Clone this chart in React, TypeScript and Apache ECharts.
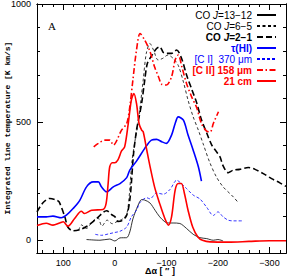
import React, { useEffect, useRef } from "react";
import * as echarts from "echarts";

// Tick labels
const xTickLabels = [100, 0, -100, -200, -300];
const yTickLabels = [0, 500, 1000];

// Series: [Δα (arcsec), integrated line temperature (K km/s)]
const co1312 = [
  [55, 3], [29, 0], [10, 5], [0, -3], [-10, 10], [-23, 11], [-29, 35], [-35, 90],
  [-45, 148], [-52, 172], [-58, 170], [-68, 158], [-78, 127], [-87, 99], [-97, 78],
  [-103, 73], [-113, 73], [-126, 71], [-139, 50], [-152, 25], [-165, 11], [-178, 7],
  [-191, 0], [-200, 3], [-210, -3],
];
const co65 = [
  [70, 42], [65, 65], [55, 50], [45, 75], [33, 95], [25, 60], [15, 85], [5, 70],
  [-5, 80], [-15, 90], [-23, 110], [-28, 190], [-33, 330], [-39, 420], [-45, 494],
  [-55, 678], [-61, 791], [-68, 833], [-75, 805], [-84, 763], [-93, 770], [-103, 784],
  [-113, 770], [-123, 740], [-133, 670], [-142, 593], [-152, 522], [-162, 466],
  [-171, 410], [-184, 330], [-197, 268], [-210, 226], [-223, 198], [-230, 183], [-240, 158],
];
const co21 = [
  [151, 120], [139, 160], [126, 177], [113, 170], [108, 162], [97, 99], [91, 55],
  [81, 40], [68, 45], [55, 58], [36, 90], [16, 125], [6, 108], [0, 100], [-6, 80],
  [-13, 82], [-23, 106], [-29, 170], [-32, 240], [-36, 360], [-42, 466], [-45, 500],
  [-52, 580], [-58, 678], [-63, 748], [-71, 780], [-81, 812], [-87, 819], [-94, 795],
  [-99, 791], [-110, 791], [-120, 805], [-130, 766], [-139, 700], [-149, 640],
  [-159, 580], [-168, 510], [-178, 455], [-188, 403], [-197, 375], [-204, 353],
  [-210, 315], [-220, 286], [-230, 297], [-242, 300], [-259, 308], [-272, 300],
  [-288, 282], [-304, 261], [-320, 243], [-332, 228],
];
const tauHI = [
  [151, 99], [133, 99], [120, 102], [104, 95], [94, 106], [81, 134], [68, 169],
  [55, 226], [42, 247], [32, 247], [26, 226], [16, 205], [3, 226], [-10, 240],
  [-23, 265], [-29, 297], [-42, 335], [-58, 389], [-71, 424], [-81, 427], [-91, 417],
  [-100, 410], [-110, 445], [-117, 494], [-123, 522], [-133, 508], [-142, 445],
  [-152, 381], [-162, 311], [-168, 250],
];
const ci370 = [
  [38, 25], [26, 21], [10, 28], [0, 33], [-10, 38], [-23, 56], [-32, 99], [-42, 127],
  [-49, 160], [-62, 180], [-68, 175], [-81, 200], [-94, 195], [-107, 215], [-120, 254],
  [-129, 240], [-139, 219], [-152, 191], [-165, 175], [-178, 140], [-191, 105],
  [-200, 120], [-210, 99], [-220, 85], [-230, 82], [-250, 82],
];
const cii158 = [
  [41, 395], [32, 410], [19, 424], [10, 424], [3, 403], [-13, 466], [-23, 494],
  [-29, 565], [-35, 678], [-42, 805], [-49, 875], [-58, 847], [-68, 800], [-77, 734],
  [-85, 690], [-91, 660], [-100, 657], [-110, 692], [-117, 763], [-123, 784],
  [-130, 734], [-139, 664], [-149, 607], [-159, 560], [-168, 494], [-178, 462],
  [-185, 459], [-191, 494], [-201, 544],
];
const hi21 = [
  [151, 62], [140, 70], [133, 72], [120, 64], [107, 73], [100, 78], [91, 59], [78, 92],
  [65, 123], [59, 113], [45, 127], [23, 130], [17, 155], [13, 240], [10, 310], [5, 328],
  [0, 328], [-6, 340], [-13, 378], [-19, 395], [-26, 494], [-32, 593], [-37, 621],
  [-42, 579], [-47, 494], [-52, 466], [-55, 459], [-62, 381], [-68, 315], [-77, 226],
  [-87, 155], [-97, 92], [-104, 64], [-110, 99], [-117, 212], [-123, 240], [-129, 240],
  [-135, 198], [-142, 127], [-151, 56], [-161, 14], [-170, 0], [-185, -7], [-220, -8],
  [-260, -5], [-300, -2], [-332, -2],
];

const X_MIN = -332;
const X_MAX = 151;
const Y_MIN = -54;
const Y_MAX = 1000;

const SANS = "Liberation Sans";

function range(a: number, b: number, step: number) {
  const out: number[] = [];
  if (step > 0) for (let v = a; v <= b; v += step) out.push(v);
  else for (let v = a; v >= b; v += step) out.push(v);
  return out;
}

const fmtNum = (v: number) => (v < 0 ? "\u2212" + Math.abs(v) : String(v));

export default function App() {
  const ref = useRef<HTMLDivElement>(null);
  useEffect(() => {
    const chart = echarts.init(ref.current!, null, { renderer: "svg" });
    const xMinor = range(140, -320, -20);
    const yMinor = range(0, 1000, 100);
    const baseX = {
      type: "value" as const,
      inverse: true,
      min: X_MIN,
      max: X_MAX,
      splitLine: { show: false },
      axisLine: { show: true, onZero: false, lineStyle: { color: "#000", width: 1 } },
      axisLabel: { show: false },
    };
    const baseY = {
      type: "value" as const,
      min: Y_MIN,
      max: Y_MAX,
      splitLine: { show: false },
      axisLine: { show: true, onZero: false, lineStyle: { color: "#000", width: 1 } },
      axisLabel: { show: false },
    };
    const tick = (vals: number[], len: number) => ({
      show: true,
      inside: true,
      length: len,
      customValues: vals,
      lineStyle: { color: "#000", width: 1 },
    });

    const legendNames: Record<string, string> = {
      co1312: "CO {i|J}=13\u221212",
      co65: "CO {i|J}=6\u22125",
      co21: "CO {ib|J}=2\u22121",
      tau: "\u03c4(HI)",
      ci: "[C I]  370 \u03bcm",
      cii: "[C II] 158 \u03bcm",
      hi: "21 cm",
    };

    const line = (
      name: string,
      data: number[][],
      color: string,
      width: number,
      type: any
    ) => ({
      name,
      type: "line",
      data,
      symbol: "none",
      smooth: 0.3,
      color,
      xAxisIndex: 0,
      yAxisIndex: 0,
      lineStyle: { color, width, type },
      emphasis: { disabled: true },
    });

    chart.setOption({
      animation: false,
      grid: {
        left: 37,
        right: 1,
        top: 4,
        bottom: 24,
        containLabel: false,
        outerBoundsMode: "none",
      },
      xAxis: [
        {
          ...baseX,
          position: "bottom",
          axisTick: tick(xTickLabels, 6),
          axisLabel: {
            show: true,
            customValues: xTickLabels,
            formatter: (v: number) => fmtNum(v),
            color: "#000",
            fontSize: 9,
            fontFamily: SANS,
            margin: 5,
          },
        },
        { ...baseX, position: "top", axisTick: tick(xTickLabels, 6) },
        { ...baseX, position: "bottom", axisTick: tick(xMinor, 3) },
        { ...baseX, position: "top", axisTick: tick(xMinor, 3) },
      ],
      yAxis: [
        {
          ...baseY,
          position: "left",
          axisTick: tick(yTickLabels, 6),
          axisLabel: {
            show: true,
            customValues: yTickLabels,
            formatter: (v: number) => fmtNum(v),
            color: "#000",
            fontSize: 9,
            fontFamily: SANS,
            margin: 6,
          },
        },
        { ...baseY, position: "right", axisTick: tick(yTickLabels, 6) },
        { ...baseY, position: "left", axisTick: tick(yMinor, 3) },
        { ...baseY, position: "right", axisTick: tick(yMinor, 3) },
      ],
      legend: {
        orient: "vertical",
        right: 10,
        top: 10,
        align: "right",
        padding: 0,
        itemGap: 1,
        itemWidth: 19,
        itemHeight: 8,
        selectedMode: false,
        itemStyle: { opacity: 0 },
        formatter: (n: string) => legendNames[n],
        textStyle: {
          fontSize: 10,
          lineHeight: 10,
          fontFamily: SANS,
          color: "#000",
          rich: {
            i: { fontStyle: "italic", fontSize: 10, fontFamily: SANS, color: "#000" },
            ib: { fontStyle: "italic", fontWeight: "bold", fontSize: 10, fontFamily: SANS, color: "#000" },
          },
        },
        data: [
          { name: "co1312" },
          { name: "co65" },
          { name: "co21", textStyle: { fontWeight: "bold" } },
          { name: "tau", textStyle: { fontWeight: "bold", color: "#0000ff" } },
          { name: "ci", textStyle: { color: "#0000ff" } },
          { name: "cii", textStyle: { fontWeight: "bold", color: "#ff0000" } },
          { name: "hi", textStyle: { fontWeight: "bold", color: "#ff0000" } },
        ],
      },
      graphic: [
        {
          type: "text",
          left: 48,
          top: 20,
          style: { text: "A", fontSize: 11, fontFamily: "Liberation Serif", fill: "#000" },
        },
        {
          type: "text",
          x: 160,
          y: 271,
          style: {
            text: "\u0394\u03b1 [ \u2033 ]",
            fontSize: 9,
            fontWeight: "bold",
            fontFamily: SANS,
            fill: "#000",
            align: "center",
            verticalAlign: "middle",
          },
        },
        {
          type: "text",
          x: 7,
          y: 128,
          rotation: Math.PI / 2,
          style: {
            text: "Integrated line temperature [K km/s]",
            fontSize: 8,
            fontWeight: "bold",
            fontFamily: "Liberation Mono",
            fill: "#000",
            align: "center",
            verticalAlign: "middle",
          },
        },
      ],
      series: [
        line("co1312", co1312, "#000000", 0.8, "solid"),
        line("co65", co65, "#000000", 0.8, [3, 2.5]),
        line("co21", co21, "#000000", 1.6, [6, 3]),
        line("tau", tauHI, "#0000ff", 1.6, "solid"),
        line("ci", ci370, "#0000ff", 0.8, [3, 2]),
        line("cii", cii158, "#ff0000", 1.6, [6, 2.5, 1.5, 2.5]),
        line("hi", hi21, "#ff0000", 1.6, "solid"),
      ],
    });
    return () => chart.dispose();
  }, []);
  return (
    <div
      ref={ref}
      style={{ position: "fixed", left: 0, top: 0, width: 287, height: 277, background: "#fff" }}
    />
  );
}
